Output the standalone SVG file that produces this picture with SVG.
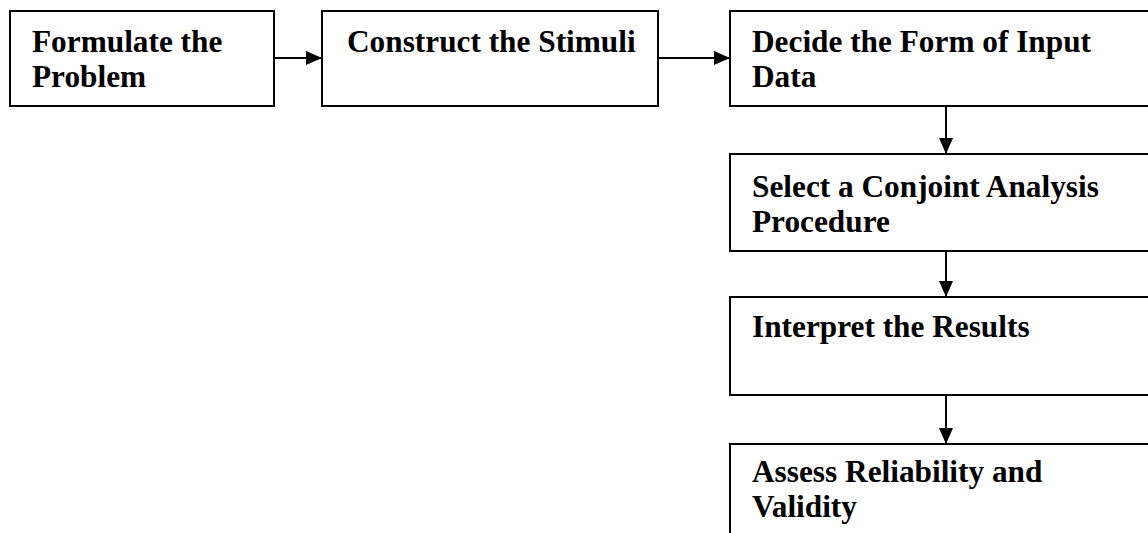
<svg xmlns="http://www.w3.org/2000/svg" width="1148" height="533" viewBox="0 0 1148 533">
<defs>
<style>
.box{fill:#fff;stroke:#000;stroke-width:2}
.t{font-family:"Liberation Serif","Times New Roman",serif;font-weight:bold;font-size:31.3px;fill:#000}
.c{stroke:#000;stroke-width:2;fill:none}
</style>
<marker id="ah" markerUnits="userSpaceOnUse" markerWidth="16" markerHeight="14" refX="16" refY="7" orient="auto">
<path d="M0,0 L16,7 L0,14 Z" fill="#000"/>
</marker>
</defs>
<rect width="1148" height="533" fill="#fff"/>
<g id="n1">
<rect class="box" x="10" y="11" width="264" height="95"/>
<text class="t" x="32" y="52">Formulate the</text>
<text class="t" x="32" y="87">Problem</text>
</g>
<g id="n2">
<rect class="box" x="322" y="11" width="336" height="95"/>
<text class="t" x="347" y="52">Construct the Stimuli</text>
</g>
<g id="n3">
<rect class="box" x="730" y="11" width="440" height="95"/>
<text class="t" x="752" y="52">Decide the Form of Input</text>
<text class="t" x="752" y="87">Data</text>
</g>
<g id="n4">
<rect class="box" x="730" y="154" width="440" height="97"/>
<text class="t" x="752" y="197">Select a Conjoint Analysis</text>
<text class="t" x="752" y="232">Procedure</text>
</g>
<g id="n5">
<rect class="box" x="730" y="297" width="440" height="98"/>
<text class="t" x="752" y="337">Interpret the Results</text>
</g>
<g id="n6">
<rect class="box" x="730" y="444" width="440" height="120"/>
<text class="t" x="752" y="482">Assess Reliability and</text>
<text class="t" x="752" y="517">Validity</text>
</g>
<g id="connectors">
<line class="c" x1="274" y1="58" x2="322" y2="58" marker-end="url(#ah)"/>
<line class="c" x1="658" y1="58" x2="730" y2="58" marker-end="url(#ah)"/>
<line class="c" x1="946" y1="106" x2="946" y2="154" marker-end="url(#ah)"/>
<line class="c" x1="946" y1="251" x2="946" y2="297" marker-end="url(#ah)"/>
<line class="c" x1="946" y1="395" x2="946" y2="444" marker-end="url(#ah)"/>
</g>
</svg>
